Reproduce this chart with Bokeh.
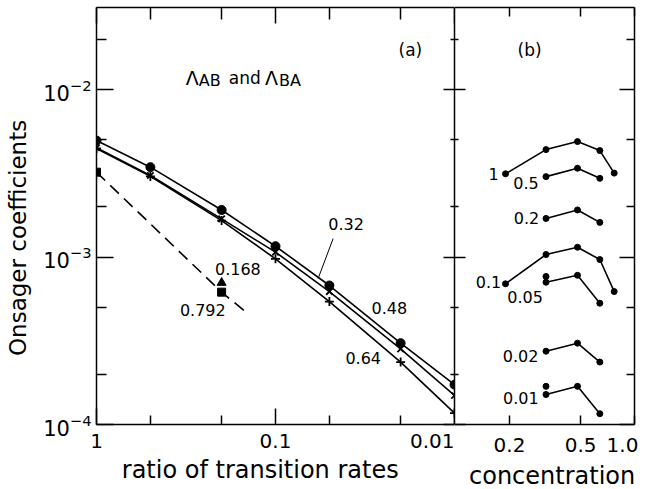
from bokeh.plotting import figure
from bokeh.layouts import row
from bokeh.models import Range1d, LogAxis, FixedTicker, Label, Arrow
from bokeh.embed import file_html
from bokeh.resources import INLINE

# ---------------- panel (a): Onsager coefficients vs ratio of transition rates
ratio = [1.0, 0.5, 0.2, 0.1, 0.05, 0.02, 0.01]
lam_048 = [4.96e-3, 3.44e-3, 1.91e-3, 1.16e-3, 6.76e-4, 3.06e-4, 1.73e-4]
lam_032 = [4.49e-3, 3.07e-3, 1.69e-3, 1.07e-3, 6.22e-4, 2.83e-4, 1.49e-4]
lam_064 = [4.45e-3, 3.03e-3, 1.65e-3, 9.75e-4, 5.42e-4, 2.36e-4, 1.17e-4]
ratio_792 = [1.0, 0.2]
lam_792 = [3.21e-3, 6.17e-4]
ratio_792_line = [1.0, 0.2, 0.145]
lam_792_line = [3.21e-3, 6.17e-4, 4.66e-4]
ratio_168 = [0.2]
lam_168 = [7.02e-4]

# ---------------- panel (b): Onsager coefficients vs concentration
conc5 = [0.19, 0.32, 0.48, 0.64, 0.77]
conc3 = [0.32, 0.48, 0.64]
b_1 = [3.14e-3, 4.38e-3, 4.89e-3, 4.32e-3, 3.17e-3]
b_05 = [3.02e-3, 3.39e-3, 2.95e-3]
b_02 = [1.70e-3, 1.91e-3, 1.61e-3]
b_01 = [6.92e-4, 1.035e-3, 1.144e-3, 9.66e-4, 6.22e-4]
b_005 = [7.07e-4, 7.78e-4, 5.30e-4]
b_002 = [2.74e-4, 3.06e-4, 2.36e-4]
b_001 = [1.51e-4, 1.69e-4, 1.16e-4]
extra_conc = [0.32, 0.32]
extra_vals = [7.65e-4, 1.69e-4]

# ---------------- ticks
y_ticks = [1e-4, 1e-3, 1e-2]
y_minor = [2e-4, 5e-4, 2e-3, 5e-3, 2e-2]
xa_ticks = [1.0, 0.1, 0.01]
xa_minor = [0.5, 0.2, 0.05, 0.02]
xa_labels = ["1", "0.1", "0.01"]
xb_ticks = [0.2, 0.5, 1.0]
xb_labels = ["0.2", "0.5", "1.0\u00a0\u00a0\u00a0"]

FONT = "DejaVu Sans"
BLACK = "black"
LW = 1.6
NB = "\u00a0"


def style(ax, t_in, t_out, m_in, m_out, ticks=None):
    ax.axis_line_color = BLACK
    ax.axis_line_width = 1.5
    ax.major_tick_line_color = BLACK
    ax.minor_tick_line_color = BLACK
    ax.major_tick_line_width = 1.5
    ax.minor_tick_line_width = 1.5
    ax.major_tick_in = t_in
    ax.major_tick_out = t_out
    ax.minor_tick_in = m_in
    ax.minor_tick_out = m_out
    ax.major_label_text_font = FONT
    ax.major_label_text_color = BLACK
    ax.axis_label_text_font = FONT
    ax.axis_label_text_font_style = "normal"
    ax.axis_label_text_color = BLACK
    if ticks is not None:
        ax.major_label_overrides = {t: "" for t in ticks}
        ax.major_label_text_font_size = "1px"
        ax.major_label_standoff = 0


yr = Range1d(1e-4, 0.0309)

# ================= panel (a)
p1 = figure(frame_width=358, frame_height=417, x_axis_type="log", y_axis_type="log",
            x_range=Range1d(1.0, 0.01), y_range=yr,
            output_backend="svg", toolbar_location=None,
            min_border_left=96, min_border_right=0, min_border_top=7,
            min_border_bottom=65)
p1.grid.visible = False
p1.outline_line_color = None

p1.xaxis.ticker = FixedTicker(ticks=xa_ticks, minor_ticks=xa_minor)
style(p1.xaxis[0], 16, 0, 9, 0)
p1.xaxis.major_label_overrides = dict(zip(xa_ticks, xa_labels))
p1.xaxis.major_label_text_font_size = "20px"
p1.xaxis.major_label_standoff = 9
p1.xaxis.axis_label = "ratio of transition rates" + NB * 4
p1.xaxis.axis_label_text_font_size = "24px"
p1.xaxis.axis_label_standoff = 5

p1.yaxis.ticker = FixedTicker(ticks=y_ticks, minor_ticks=y_minor)
style(p1.yaxis[0], 17, 0, 10, 0)
p1.yaxis.major_label_text_font_size = "21px"
p1.yaxis.major_label_standoff = 5
p1.yaxis.axis_label = "Onsager coefficients" + NB * 6
p1.yaxis.axis_label_text_font_size = "23px"
p1.yaxis.axis_label_standoff = 9

top1 = LogAxis(ticker=FixedTicker(ticks=xa_ticks, minor_ticks=xa_minor))
style(top1, 16, 0, 12, 0, ticks=xa_ticks)
p1.add_layout(top1, "above")

right1 = LogAxis(ticker=FixedTicker(ticks=y_ticks, minor_ticks=y_minor))
style(right1, 11, 0, 4, 0, ticks=y_ticks)
p1.add_layout(right1, "right")

p1.line(ratio, lam_048, line_color=BLACK, line_width=LW)
p1.line(ratio, lam_032, line_color=BLACK, line_width=LW)
p1.line(ratio, lam_064, line_color=BLACK, line_width=LW)
p1.line(ratio_792_line, lam_792_line, line_color=BLACK, line_width=LW,
        line_dash="12 7")
p1.scatter(ratio, lam_048, marker="circle", size=9, color=BLACK)
p1.scatter(ratio, lam_032, marker="x", size=9, line_color=BLACK, line_width=1.8)
p1.scatter(ratio, lam_064, marker="cross", size=9, line_color=BLACK, line_width=1.8)
p1.scatter(ratio_792, lam_792, marker="square", size=8, color=BLACK)
p1.scatter(ratio_168, lam_168, marker="triangle", size=9, color=BLACK)


def lab(p, x, y, text, size="16px", align="center", baseline="middle"):
    p.add_layout(Label(x=x, y=y, text=text, text_font=FONT, text_font_size=size,
                       text_color=BLACK, text_align=align, text_baseline=baseline))


lab(p1, 0.01764, 0.01733, "(a)", "17px")
lab(p1, 0.0403, 1.585e-3, "0.32")
lab(p1, 0.02313, 4.93e-4, "0.48")
lab(p1, 0.03235, 2.51e-4, "0.64")
lab(p1, 0.1622, 8.54e-4, "0.168")
lab(p1, 0.2548, 4.86e-4, "0.792")
p1.add_layout(Arrow(end=None, x_start=0.04764, y_start=1.289e-3,
                    x_end=0.0578, y_end=7.44e-4, line_color=BLACK, line_width=1))

# title  Λ_AB and Λ_BA
lab(p1, 0.3171, 0.01179, "\u039b", "19px", "left", "alphabetic")
lab(p1, 0.2683, 0.01131, "AB", "16px", "left", "alphabetic")
lab(p1, 0.1822, 0.01179, "and", "17px", "left", "alphabetic")
lab(p1, 0.1145, 0.01179, "\u039b", "19px", "left", "alphabetic")
lab(p1, 0.09558, 0.01131, "BA", "16px", "left", "alphabetic")

# ================= panel (b)
p2 = figure(frame_width=180, frame_height=417, x_axis_type="log", y_axis_type="log",
            x_range=Range1d(0.0985, 1.0), y_range=yr,
            output_backend="svg", toolbar_location=None,
            min_border_left=0, min_border_right=23, min_border_top=7,
            min_border_bottom=65)
p2.grid.visible = False
p2.outline_line_color = None

p2.xaxis.ticker = FixedTicker(ticks=xb_ticks, minor_ticks=[])
style(p2.xaxis[0], 9, 0, 0, 0)
p2.xaxis.major_label_overrides = dict(zip(xb_ticks, xb_labels))
p2.xaxis.major_label_text_font_size = "20px"
p2.xaxis.major_label_standoff = 8
p2.xaxis.axis_label = NB * 2 + "concentration"
p2.xaxis.axis_label_text_font_size = "24px"
p2.xaxis.axis_label_standoff = 2

p2.yaxis.ticker = FixedTicker(ticks=y_ticks, minor_ticks=y_minor)
style(p2.yaxis[0], 11, 0, 4, 0, ticks=y_ticks)

top2 = LogAxis(ticker=FixedTicker(ticks=xb_ticks, minor_ticks=[]))
style(top2, 9, 0, 0, 0, ticks=xb_ticks)
p2.add_layout(top2, "above")

right2 = LogAxis(ticker=FixedTicker(ticks=y_ticks, minor_ticks=y_minor))
style(right2, 15, 0, 8, 0, ticks=y_ticks)
p2.add_layout(right2, "right")

for xs, ys in [(conc5, b_1), (conc3, b_05), (conc3, b_02), (conc5, b_01),
               (conc3, b_005), (conc3, b_002), (conc3, b_001)]:
    p2.line(xs, ys, line_color=BLACK, line_width=LW)
    p2.scatter(xs, ys, marker="circle", size=6, color=BLACK)
p2.scatter(extra_conc, extra_vals, marker="circle", size=6, color=BLACK)

lab(p2, 0.2589, 0.01733, "(b)", "17px")
lab(p2, 0.1627, 3.15e-3, "1")
lab(p2, 0.2475, 2.786e-3, "0.5")
lab(p2, 0.2491, 1.70e-3, "0.2")
lab(p2, 0.1525, 7.05e-4, "0.1")
lab(p2, 0.2443, 5.81e-4, "0.05")
lab(p2, 0.2306, 2.58e-4, "0.02")
lab(p2, 0.2313, 1.449e-4, "0.01")

layout = row(p1, p2)
open("out.html", "w").write(file_html(layout, INLINE))
